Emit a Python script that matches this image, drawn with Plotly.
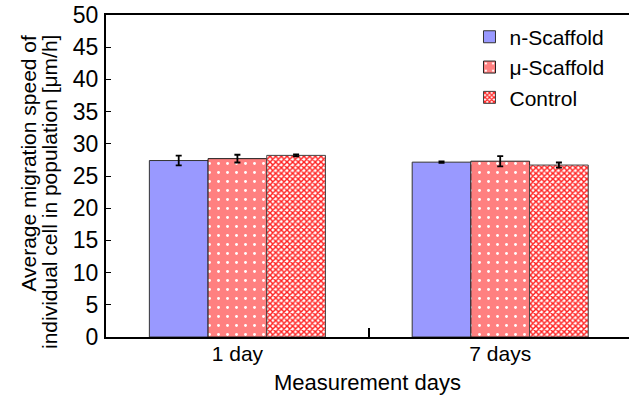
import plotly.graph_objects as go

categories = ["1 day", "7 days"]
series_names = ["n-Scaffold", "μ-Scaffold", "Control"]
n_scaffold = [27.4, 27.15]
n_scaffold_err = [0.75, 0.12]
mu_scaffold = [27.7, 27.3]
mu_scaffold_err = [0.6, 0.8]
control = [28.2, 26.7]
control_err = [0.15, 0.4]
y_ticks = [0, 5, 10, 15, 20, 25, 30, 35, 40, 45, 50]

FONT = "Liberation Sans, Arial, sans-serif"
fs = 21

fig = go.Figure()
err_style = dict(type="data", color="black", thickness=1.8, width=3)

fig.add_trace(go.Bar(
    name=series_names[0], x=categories, y=n_scaffold,
    error_y=dict(array=n_scaffold_err, **err_style),
    marker=dict(color="#9999FF", line=dict(color="#333333", width=1)),
))
fig.add_trace(go.Bar(
    name=series_names[1], x=categories, y=mu_scaffold,
    error_y=dict(array=mu_scaffold_err, **err_style),
    marker=dict(color="#FF8080", line=dict(color="#222222", width=1),
                pattern=dict(shape=".", fgcolor="white", bgcolor="#FF8080",
                             size=9, solidity=0.08, fillmode="replace")),
))
fig.add_trace(go.Bar(
    name=series_names[2], x=categories, y=control,
    error_y=dict(array=control_err, **err_style),
    marker=dict(color="#FF3030", line=dict(color="#444444", width=1),
                pattern=dict(shape="x", fgcolor="#FF2020", bgcolor="white",
                             size=4, solidity=0.6, fillmode="replace")),
))

fig.update_layout(
    width=629, height=407,
    margin=dict(l=106, r=0, t=15, b=70, autoexpand=False),
    paper_bgcolor="white", plot_bgcolor="white",
    font=dict(family=FONT, size=fs, color="black"),
    barmode="group", bargap=0.33, bargroupgap=0,
    showlegend=True,
    legend=dict(x=0.695, y=0.995, xanchor="left", yanchor="top",
                bgcolor="rgba(0,0,0,0)", font=dict(family=FONT, size=fs),
                tracegroupgap=0),
    xaxis=dict(
        type="category", range=[-0.5, 1.49], automargin=False,
        showline=True, linecolor="black", linewidth=2, mirror=True,
        ticks="inside", tickson="boundaries", ticklen=9, tickwidth=2, tickcolor="black",
        showgrid=False, zeroline=False, ticklabelstandoff=-3,
        title=dict(text="Measurement days", font=dict(family=FONT, size=22), standoff=10),
        tickfont=dict(family=FONT, size=fs),
    ),
    yaxis=dict(
        range=[0, 50], tickvals=y_ticks, automargin=False,
        showline=True, linecolor="black", linewidth=2, mirror=False,
        ticks="inside", ticklen=5, tickwidth=1, tickcolor="black",
        showgrid=False, zeroline=False, ticklabelstandoff=1,
        tickfont=dict(family=FONT, size=23),
    ),
    annotations=[
        dict(text="Average migration speed of", xref="paper", yref="paper",
             x=-0.149, y=0.944, xanchor="center", yanchor="top", textangle=-90,
             showarrow=False, font=dict(family=FONT, size=fs)),
        dict(text="individual cell in population [μm/h]", xref="paper", yref="paper",
             x=-0.109, y=0.944, xanchor="center", yanchor="top", textangle=-90,
             showarrow=False, font=dict(family=FONT, size=fs)),
    ],
)

# remove the browser's default 8px body margin so the figure fills the window exactly
fig.write_html("out.html",
               config={"displayModeBar": False},
               post_script="document.body.style.margin='0';document.body.style.overflow='hidden';")
